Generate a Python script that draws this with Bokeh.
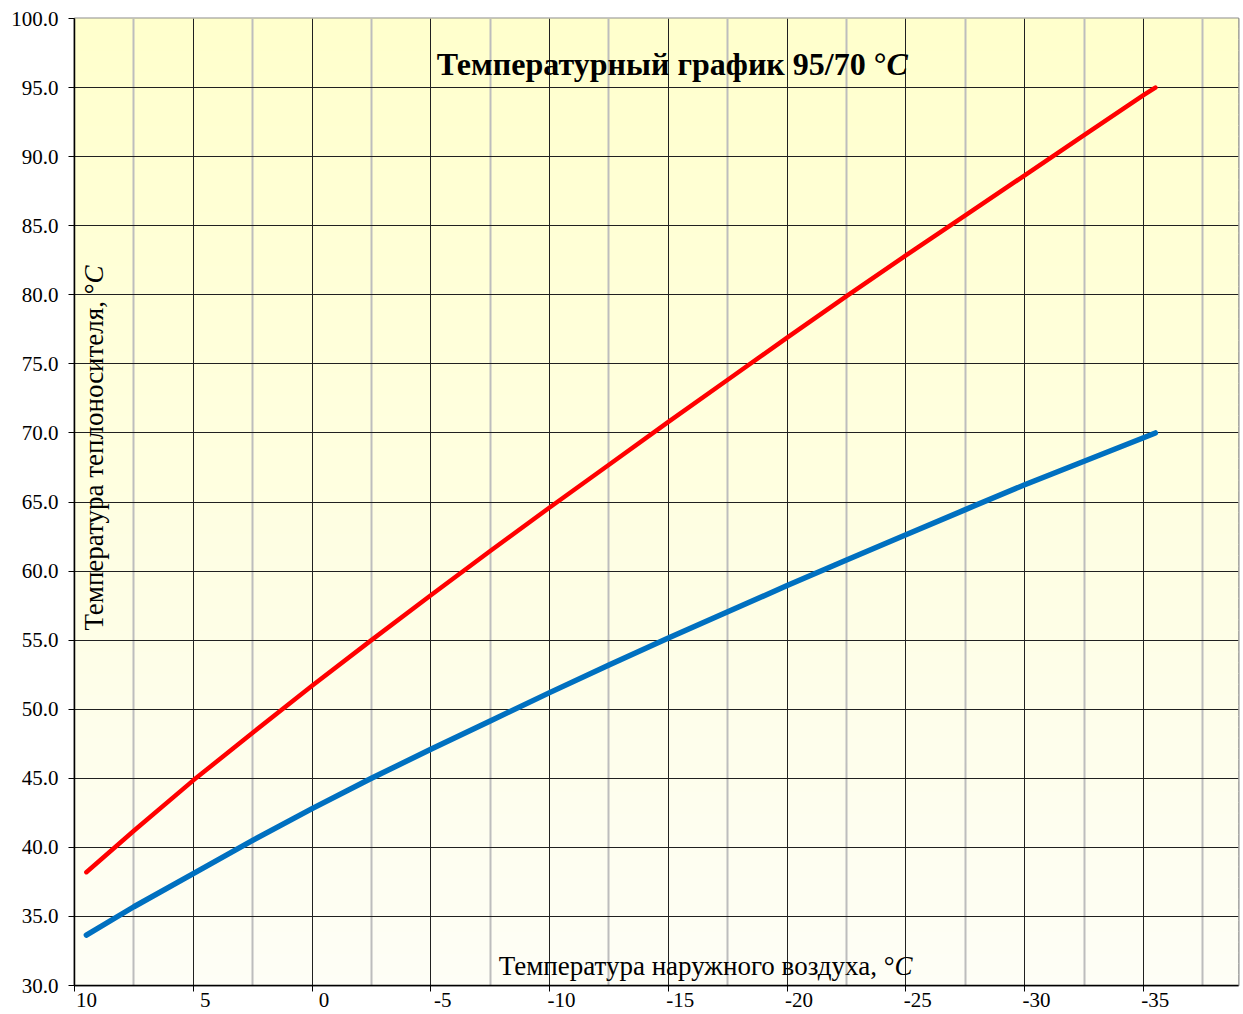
import math
import numpy as np
from bokeh.plotting import figure
from bokeh.models import Range1d, FixedTicker, NumeralTickFormatter, Label
from bokeh.embed import file_html
from bokeh.resources import INLINE

# ---------------- data ----------------
outdoor_temp = [10, 8, 5.5, 3, 0.5, -2, -4.5, -7, -9.5, -12, -14.5, -17,
                -19.5, -22, -24.5, -27, -29.5, -32, -34.5, -35]
supply_temp = [38.2, 41.2, 44.85, 48.3, 51.7, 55.0, 58.25, 61.45, 64.6, 67.7,
               70.8, 73.85, 76.9, 79.9, 82.85, 85.75, 88.65, 91.55, 94.45, 95.0]
return_temp = [33.65, 35.7, 38.1, 40.5, 42.8, 45.0, 47.1, 49.15, 51.2, 53.2,
               55.15, 57.05, 58.95, 60.8, 62.63, 64.45, 66.25, 67.95, 69.65, 70.0]
x_tick_values = [10, 5, 0, -5, -10, -15, -20, -25, -30, -35]
x_tick_labels = ["10", "5", "0", "-5", "-10", "-15", "-20", "-25", "-30", "-35"]
y_ticks = [30, 35, 40, 45, 50, 55, 60, 65, 70, 75, 80, 85, 90, 95, 100]

title_text = "Температурный график 95/70 °"
x_title_text = "Температура наружного воздуха, °"
y_title_text = "Температура теплоносителя, °"
unit_letter = "C"

# ---------------- ranges ----------------
X_START, X_END = 10.5, -38.5   # category axis, reversed (categories 10 .. -38)
Y_START, Y_END = 30, 100

FONT = "Liberation Serif"

p = figure(width=1241, height=1012,
           x_range=Range1d(X_START, X_END), y_range=Range1d(Y_START, Y_END),
           output_backend="svg", toolbar_location=None,
           min_border_left=74, min_border_right=3, min_border_top=18, min_border_bottom=27)
p.border_fill_color = "white"
p.background_fill_color = "#FFFFE6"

# background gradient (light yellow at top -> near white at bottom), drawn below grid
n = 90
ys = np.linspace(Y_START, Y_END, n + 1)
top_rgb = np.array([255, 255, 204])
bot_rgb = np.array([254, 254, 246])
cols = []
for i in range(n):
    t = (i + 0.5) / n
    c = bot_rgb + (top_rgb - bot_rgb) * t
    cols.append("#%02x%02x%02x" % tuple(int(round(v)) for v in c))
p.quad(left=X_START, right=X_END, bottom=ys[:-1], top=ys[1:] + 0.06,
       fill_color=cols, line_color=None, level="image")

# ---------------- grid ----------------
boundaries = [c + 0.5 for c in x_tick_values]
mids = [c - 2 for c in x_tick_values]
p.xgrid.ticker = FixedTicker(ticks=boundaries, minor_ticks=mids)
p.xgrid.grid_line_color = "#202020"
p.xgrid.grid_line_width = 1
p.xgrid.minor_grid_line_color = "#bdbdbd"
p.xgrid.minor_grid_line_width = 2
p.ygrid.ticker = FixedTicker(ticks=y_ticks)
p.ygrid.grid_line_color = "#202020"
p.ygrid.grid_line_width = 1

p.outline_line_color = "#8c8c8c"
p.outline_line_width = 2

# ---------------- axes ----------------
xa = p.xaxis[0]
xa.ticker = FixedTicker(ticks=x_tick_values, minor_ticks=boundaries)
xa.major_label_overrides = {c: lbl for c, lbl in zip(x_tick_values, x_tick_labels)}
xa.major_tick_out = 6
xa.major_tick_in = 0
xa.major_tick_line_color = None
xa.minor_tick_out = 6
xa.minor_tick_in = 0
xa.minor_tick_line_color = "black"
xa.axis_line_color = "black"
xa.axis_line_width = 1.5
xa.major_label_text_font = FONT
xa.major_label_text_font_size = "21px"
xa.major_label_text_color = "black"
xa.major_label_standoff = 1

ya = p.yaxis[0]
ya.ticker = FixedTicker(ticks=y_ticks)
ya.formatter = NumeralTickFormatter(format="0.0")
ya.major_tick_out = 6
ya.major_tick_in = 0
ya.minor_tick_out = 0
ya.minor_tick_in = 0
ya.major_tick_line_color = "black"
ya.axis_line_color = "black"
ya.axis_line_width = 1.5
ya.major_label_text_font = FONT
ya.major_label_text_font_size = "21px"
ya.major_label_text_color = "black"
ya.major_label_standoff = 10

# ---------------- series ----------------
p.line(outdoor_temp, supply_temp, line_color="#FF0000", line_width=4.5,
       line_cap="round", line_join="round")
p.line(outdoor_temp, return_temp, line_color="#0070C0", line_width=5.5,
       line_cap="round", line_join="round")

# ---------------- texts ----------------
def two_part(x, y, text, size, style, angle=0.0):
    p.add_layout(Label(x=x, y=y, text=text, text_align="right", text_baseline="middle",
                       text_font=FONT, text_font_size=size, text_font_style=style,
                       text_color="black", angle=angle))
    ital = "bold italic" if style == "bold" else "italic"
    p.add_layout(Label(x=x, y=y, text=unit_letter, text_align="left", text_baseline="middle",
                       text_font=FONT, text_font_size=size, text_font_style=ital,
                       text_color="black", angle=angle))

two_part(-23.68, 96.71, title_text, "32px", "bold")
two_part(-24.02, 31.40, x_title_text, "27px", "normal")
two_part(9.66, 80.82, y_title_text, "27px", "normal", angle=math.pi / 2)

open("out.html", "w").write(file_html(p, INLINE))
